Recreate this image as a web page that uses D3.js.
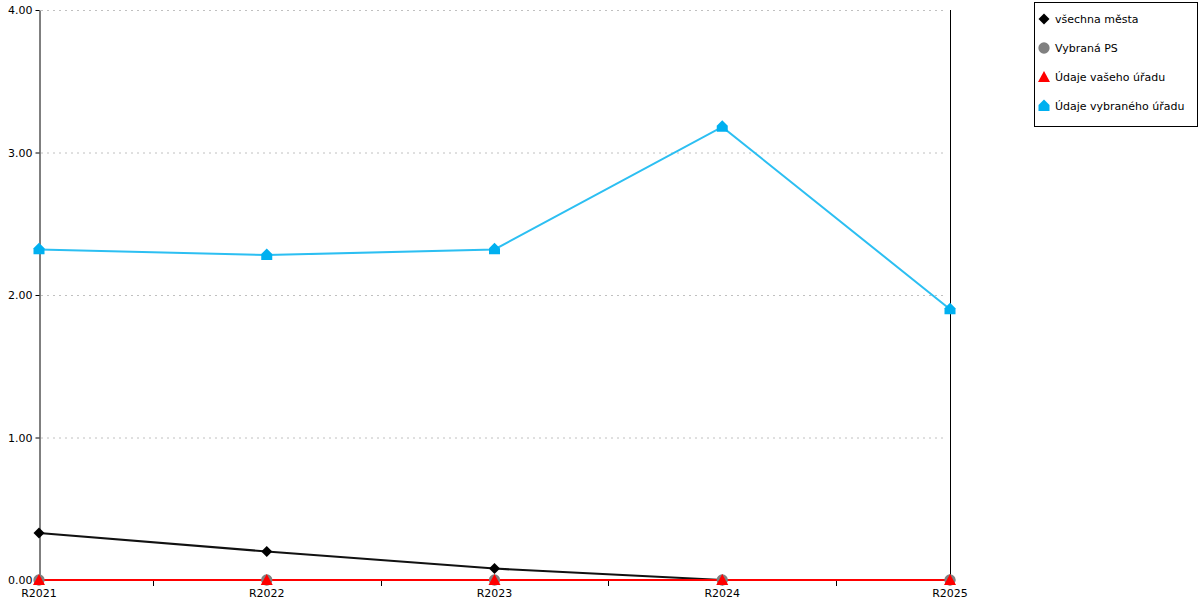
<!DOCTYPE html>
<html><head><meta charset="utf-8">
<script src="https://cdn.jsdelivr.net/npm/d3@7"></script>
<style>body{margin:0;background:#fff}svg{display:block}text{font-family:"DejaVu Sans",sans-serif;font-size:11px;fill:#000}</style>
</head><body><svg id="c" width="1200" height="600"></svg>
<script>
const categories = ["R2021","R2022","R2023","R2024","R2025"];
const yTicks = [0,1,2,3,4];
const seriesNames = ["všechna města","Vybraná PS","Údaje vašeho úřadu","Údaje vybraného úřadu"];
const vsechnaMesta = [0.33,0.20,0.08,0.00,0.00];
const vybranaPS = [0,0,0,0,0];
const udajeVaseho = [0,0,0,0,0];
const udajeVybraneho = [2.32,2.28,2.32,3.18,1.90];

const svg = d3.select("#c");
const L=39,R=950,T=10,B=580;
const x = d3.scalePoint().domain(categories).range([L,R]);
const y = d3.scaleLinear().domain([0,4]).range([B,T]);

// gridlines
svg.append("g").selectAll("line").data(yTicks.filter(d=>d>0)).join("line")
 .attr("x1",L+2).attr("x2",R-3).attr("y1",d=>y(d)+0.5).attr("y2",d=>y(d)+0.5)
 .attr("stroke","#c0c0c0").attr("stroke-dasharray","2,4");

// y axis
const ya = svg.append("g").attr("transform",`translate(${L+0.5},0)`)
 .call(d3.axisLeft(y).tickValues(yTicks).tickFormat(d3.format(".2f")).tickSize(4).tickSizeOuter(0));
ya.select(".domain").attr("stroke","#000");
ya.selectAll("text").style("font-family","DejaVu Sans").style("font-size","11px").attr("x",-7);
// right line
svg.append("line").attr("x1",R+0.5).attr("x2",R+0.5).attr("y1",T).attr("y2",B).attr("stroke","#000");
// x axis ticks between categories
const step = x.step();
const mids = categories.slice(0,-1).map(c=>x(c)+step/2);
svg.append("g").selectAll("line").data(mids).join("line")
 .attr("x1",d=>Math.round(d)+0.5).attr("x2",d=>Math.round(d)+0.5).attr("y1",B).attr("y2",B+6).attr("stroke","#000");
svg.append("line").attr("x1",L).attr("x2",R).attr("y1",B+0.5).attr("y2",B+0.5).attr("stroke","#000");
svg.append("g").selectAll("text").data(categories).join("text")
 .attr("x",d=>x(d)).attr("y",B+17).attr("text-anchor","middle").text(d=>d);

const line = d3.line().x((d,i)=>x(categories[i])).y(d=>y(d));
const house = s=>`M0,${-s*0.6}L${s*0.5},${-s*0.1}L${s*0.5},${s*0.45}L${-s*0.5},${s*0.45}L${-s*0.5},${-s*0.1}Z`;
const shapes = {
 diamond: "M0,-5.5L5.5,0L0,5.5L-5.5,0Z",
 circle: d3.symbol(d3.symbolCircle,100)(),
 triangle: "M0,-6L6,5L-6,5Z",
 house: house(11)
};
const series = [
 {name:seriesNames[0],data:vsechnaMesta,color:"#000",lineColor:"#111",shape:"diamond"},
 {name:seriesNames[1],data:vybranaPS,color:"#808080",lineColor:"#808080",shape:"circle"},
 {name:seriesNames[2],data:udajeVaseho,color:"#ff0000",lineColor:"#ff0000",shape:"triangle"},
 {name:seriesNames[3],data:udajeVybraneho,color:"#00b0f0",lineColor:"#2cbff2",shape:"house"}
];
series.forEach(s=>{
 svg.append("path").attr("d",line(s.data)).attr("fill","none").attr("stroke",s.lineColor).attr("stroke-width",2);
});
series.forEach(s=>{
 svg.append("g").selectAll("path").data(s.data).join("path")
  .attr("transform",(d,i)=>`translate(${x(categories[i])},${y(d)})`)
  .attr("d",shapes[s.shape]).attr("fill",s.color);
});

// legend
const lg = svg.append("g");
lg.append("rect").attr("x",1034.5).attr("y",2.5).attr("width",163).attr("height",124).attr("fill","#fff").attr("stroke","#000");
series.forEach((s,i)=>{
 const yy = 19+i*29;
 lg.append("path").attr("transform",`translate(1044,${yy})`).attr("d",shapes[s.shape]).attr("fill",s.color);
 lg.append("text").attr("x",1055).attr("y",yy+4).text(s.name);
});
</script></body></html>
